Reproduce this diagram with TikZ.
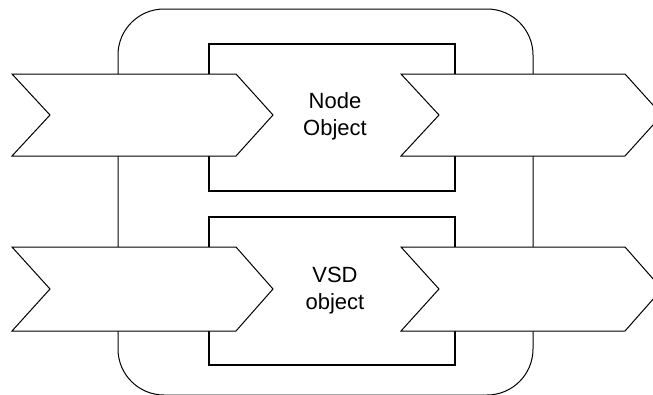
\documentclass[tikz,border=0pt]{standalone}
\usepackage{fontspec}
\setmainfont{Liberation Sans}
\begin{document}
\begin{tikzpicture}[x=1pt,y=-1pt,
  thinline/.style={draw=black, line width=1pt},
  boxline/.style={draw=black, line width=2pt},
  arrowshape/.style={draw=black, fill=white, line width=1pt, line join=miter},
  lbl/.style={font=\fontsize{22}{27}\selectfont, align=center, inner sep=0pt}]
\useasboundingbox (0,0) rectangle (653,394);
\clip (0,0) rectangle (653,394);
% outer rounded container
\draw[thinline, rounded corners=46pt] (118,9) rectangle (533,395);
% inner boxes
\draw[boxline] (209,44) rectangle (455,191);
\draw[boxline] (209,217) rectangle (455,365);
% upper arrows
\draw[arrowshape] (12,74) -- (236,74) -- (273,115) -- (236,156) -- (12,156) -- (50,115) -- cycle;
\draw[arrowshape] (401,74) -- (625,74) -- (662,115) -- (625,156) -- (401,156) -- (439,115) -- cycle;
% lower arrows
\draw[arrowshape] (12,247) -- (236,247) -- (273,289) -- (236,331) -- (12,331) -- (50,289) -- cycle;
\draw[arrowshape] (401,247) -- (625,247) -- (662,289) -- (625,331) -- (401,331) -- (439,289) -- cycle;
% labels
\node[lbl] (nodeobj) at (335,116) {Node\\Object};
\node[lbl] (vsdobj) at (335,291) {VSD\\object};
\end{tikzpicture}
\end{document}
